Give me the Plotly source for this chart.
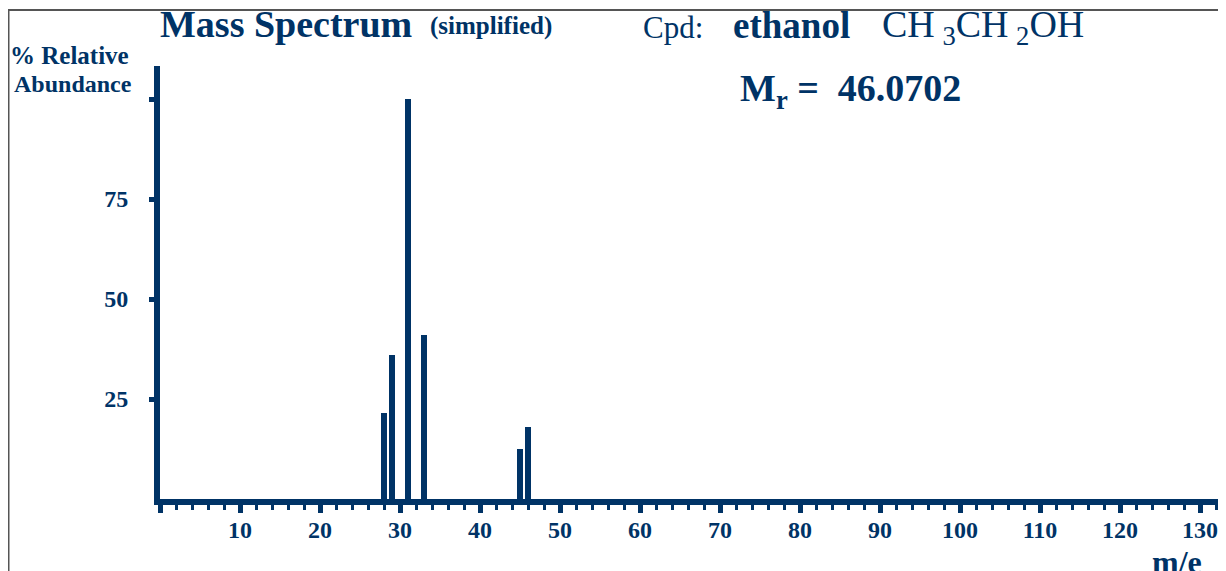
import plotly.graph_objects as go

# data
mz = [28, 29, 31, 33, 45, 46]
abundance = [21.5, 36, 100, 41, 12.5, 18]
x_major_ticks = [10, 20, 30, 40, 50, 60, 70, 80, 90, 100, 110, 120, 130]
y_tick_vals = [25, 50, 75, 100]
y_tick_text = ["25", "50", "75", ""]

NAVY = "#003366"
FONT = "Liberation Serif"
NB = "\u00a0"

OFF = 8  # page body margin
W, H = 1226 - OFF, 571 - OFF
# plot area edges in window pixels
L, R, T, B = 160, 1222, 66, 499

def px(x):
    return (x - L) / (R - L)

def py(y):
    return (B - y) / (B - T)

fig = go.Figure()
fig.add_trace(go.Bar(x=mz, y=abundance, width=0.75,
                     marker=dict(color=NAVY, line=dict(width=0)),
                     hoverinfo="x+y"))

fig.update_layout(
    template="none",
    width=W, height=H, autosize=False,
    margin=dict(l=L - OFF, r=1226 - R, t=T - OFF, b=571 - B, pad=0,
                autoexpand=False),
    paper_bgcolor="white", plot_bgcolor="white",
    showlegend=False,
    font=dict(family=FONT, color=NAVY),
    xaxis=dict(range=[0, (R - L) / 8.0], showgrid=False, zeroline=False,
               automargin=False,
               showline=True, linecolor=NAVY, linewidth=6,
               tickmode="array", tickvals=[0] + x_major_ticks,
               ticktext=[""] + ["<b>%d</b>" % v for v in x_major_ticks],
               ticks="outside", ticklen=8, tickwidth=5, tickcolor=NAVY,
               ticklabelstandoff=-4,
               tickfont=dict(family=FONT, size=24, color=NAVY),
               minor=dict(dtick=2, tick0=0, ticks="outside", ticklen=5,
                          tickwidth=3, tickcolor=NAVY, showgrid=False),
               fixedrange=True),
    yaxis=dict(range=[0, (B - T) / 4.0], showgrid=False, zeroline=False,
               automargin=False,
               showline=True, linecolor=NAVY, linewidth=6,
               tickmode="array", tickvals=y_tick_vals,
               ticktext=["<b>%s</b>" % t for t in y_tick_text],
               ticks="outside", ticklen=5, tickwidth=5, tickcolor=NAVY,
               ticklabelstandoff=16,
               tickfont=dict(family=FONT, size=24, color=NAVY),
               fixedrange=True),
)

def ann(text, x, y, size, bold=True, xanchor="left", yanchor="middle"):
    if bold:
        text = "<b>" + text + "</b>"
    fig.add_annotation(text=text, x=px(x), y=py(y), xref="paper", yref="paper",
                       showarrow=False, xanchor=xanchor, yanchor=yanchor,
                       font=dict(family=FONT, size=size, color=NAVY))

ann("Mass Spectrum", 158, 24, 38)
ann("(simplified)", 428, 26, 25)
ann("Cpd:", 641, 27, 31, bold=False)
ann("ethanol", 731, 26, 37)
ann("CH\u2009<sub>3</sub>CH\u2009<sub>2</sub>OH", 880, 27, 38, bold=False)
ann("M<sub>r</sub> =" + NB + NB + "46.0702", 738, 91, 38)
ann("% Relative", 8, 55, 25)
ann("Abundance", 12, 84, 24)
ann("m/e", 1150, 562, 32)

# outer frame
fig.add_shape(type="rect", xref="paper", yref="paper",
              x0=px(8.5), x1=px(1222), y0=py(700), y1=py(10),
              line=dict(color="#555555", width=2), fillcolor="rgba(0,0,0,0)",
              layer="below")

fig.write_html("out.html")
